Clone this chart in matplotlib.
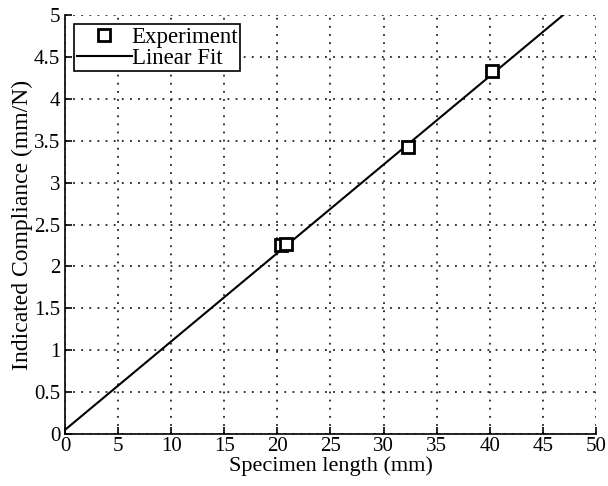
import matplotlib.pyplot as plt
import numpy as np

# measured compliance vs specimen length
length = [20.3, 20.8, 32.3, 40.2]
compliance = [2.25, 2.27, 3.42, 4.33]

# linear fit: C = slope * L + intercept
fit_slope = 0.1055
fit_intercept = 0.05

plt.rcParams['font.family'] = ['Liberation Serif', 'DejaVu Serif']

fig = plt.figure(figsize=(6.08, 4.86), dpi=100)
ax = fig.add_axes([0.107, 0.107, 0.873, 0.862])

fit_x = np.array([0, 50])
ax.plot(length, compliance, 's', mfc='white', mec='black', mew=2, ms=8, label='Experiment', zorder=3)
ax.plot(fit_x, fit_slope * fit_x + fit_intercept, '-', color='black', lw=1.5, label='Linear Fit')

ax.set_xlim(0, 50)
ax.set_ylim(0, 5)
ax.set_xticks(np.arange(0, 51, 5))
ax.set_yticks(np.arange(0, 5.01, 0.5))
ax.set_yticklabels(['0', '0.5', '1', '1.5', '2', '2.5', '3', '3.5', '4', '4.5', '5'])
ax.grid(True, linestyle=(0, (1, 3.5)), color='#222222', lw=1.3)
ax.tick_params(direction='in', labelsize=15, length=5, width=1.2, top=False, right=False)
ax.tick_params(axis='x', pad=2)
ax.spines['top'].set_visible(False)
ax.spines['right'].set_visible(False)
for s in ['left', 'bottom']:
    ax.spines[s].set_linewidth(1.2)

ax.set_xlabel('Specimen length (mm)', fontsize=16, labelpad=0)
ax.set_ylabel('Indicated Compliance (mm/N)', fontsize=17, labelpad=1)

leg = ax.legend(loc='upper left', fontsize=16.5, frameon=True, fancybox=False, edgecolor='black',
                handlelength=2.4, handletextpad=0.0, borderpad=0.1, labelspacing=0.0,
                borderaxespad=0.4, framealpha=1)
leg.get_frame().set_linewidth(1.2)

fig.savefig('out.png', dpi=100)
